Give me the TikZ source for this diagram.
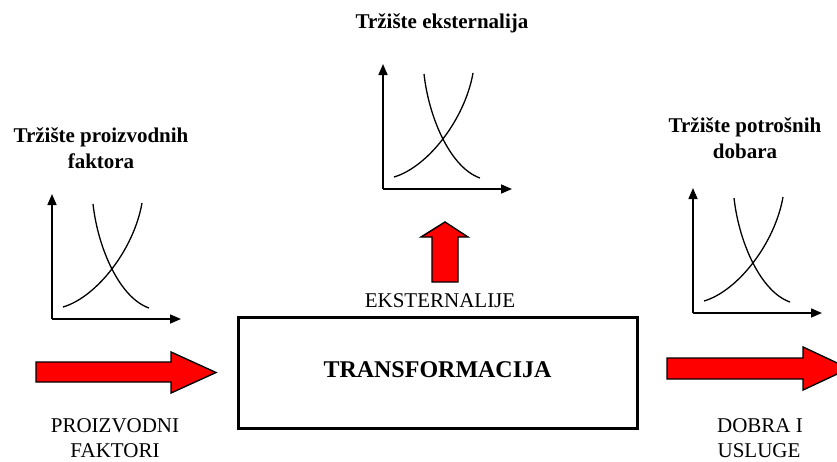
\documentclass[tikz,border=0pt]{standalone}
\usepackage{fontspec}
\setmainfont{Liberation Serif}
\usetikzlibrary{arrows.meta}
\begin{document}
\begin{tikzpicture}[x=1pt,y=-1pt,
  lbl/.style={inner sep=0pt,anchor=base,font=\fontsize{21}{26}\selectfont},
  hdr/.style={lbl,font=\fontsize{21}{26}\selectfont\bfseries},
  blockarrow/.style={draw=black,line width=1.4pt,fill=red,line join=miter},
  axis/.style={line width=1.6pt,-{Triangle[length=11pt,width=9pt]}},
  curve/.style={line width=1.3pt},
  market/.pic={
    \coordinate (-o) at (0,0);
    \coordinate (-y) at (0,-125);
    \coordinate (-x) at (129,0);
    \draw[axis] (-o) -- (-y);
    \draw[axis] (-o) -- (-x);
    \draw[curve] (11,-12) .. controls (45,-22) and (82,-70) .. (90,-116);
    \draw[curve] (41,-115) .. controls (46,-70) and (68,-21) .. (97,-11);
  }]
\useasboundingbox (0,0) rectangle (837,461);
\begin{scope}
\clip (0,0) rectangle (837,461);
% markets
\pic (mtop) at (383,189) {market};
\pic (mleft) at (52,319) {market};
\pic (mright) at (693,313) {market};

% transformation box
\node[draw=black,line width=3pt,minimum width=399pt,minimum height=111pt,inner sep=0pt] (trans) at (437.5,372.5) {};

% externalities arrow
\draw[blockarrow] (432,282) -- (432,237) -- (421,237) -- (445,222) -- (468,237) -- (458,237) -- (458,282) -- cycle;

% input arrow
\draw[blockarrow] (36,362) -- (171,362) -- (171,352) -- (216,372.5) -- (171,393) -- (171,382) -- (36,382) -- cycle;

% output arrow
\draw[blockarrow] (667,358) -- (803,358) -- (803,347) -- (849,368.5) -- (803,390) -- (803,379) -- (667,379) -- cycle;
\end{scope}

% headings
\node[hdr] (htop) at (442,28) {Tržište eksternalija};
\node[hdr] (hleft1) at (101,142) {Tržište proizvodnih};
\node[hdr] (hleft2) at (101,168) {faktora};
\node[hdr] (hright1) at (745,132) {Tržište potrošnih};
\node[hdr] (hright2) at (745,158) {dobara};

\node[inner sep=0pt,anchor=base,font=\fontsize{24}{28}\selectfont\bfseries] (ttext) at (437.5,377) {TRANSFORMACIJA};
\node[lbl] (ext) at (440,307) {EKSTERNALIJE};

\node[lbl] (in1) at (115,432) {PROIZVODNI};
\node[lbl] (in2) at (115,457) {FAKTORI};
\node[lbl] (out1) at (760,432) {DOBRA I};
\node[lbl] (out2) at (759,457) {USLUGE};
\end{tikzpicture}
\end{document}
